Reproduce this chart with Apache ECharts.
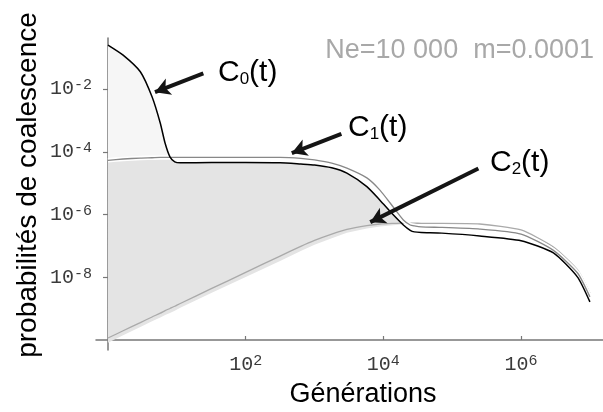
<!DOCTYPE html>
<html>
<head>
<meta charset="utf-8">
<script src="https://cdn.jsdelivr.net/npm/echarts@6.0.0/dist/echarts.min.js"></script>
<style>
  html, body { margin: 0; padding: 0; background: #fff; }
  #chart { width: 603px; height: 412px; }
</style>
</head>
<body>
<div id="chart"></div>
<script>
// log10(générations)
const genLog = [0, 0.22, 0.47, 0.64, 0.76, 0.83, 0.90, 0.97, 1.05, 1.5, 2.0, 2.5, 2.8, 3.0, 3.25, 3.47, 3.76, 3.95, 4.14, 4.29, 4.39, 4.45, 4.55, 4.85, 5.4, 6.0, 6.47, 6.82, 7.0];
// log10 des probabilités
const c0Log = [-0.60, -0.92, -1.45, -2.25, -3.09, -3.73, -4.16, -4.32, -4.35, -4.34, -4.34, -4.35, -4.39, -4.42, -4.51, -4.68, -5.11, -5.54, -6.00, -6.33, -6.50, -6.55, -6.57, -6.59, -6.68, -6.83, -7.22, -7.99, -8.78];
const c1Log = [-4.27, -4.23, -4.20, -4.19, -4.18, -4.18, -4.18, -4.18, -4.18, -4.18, -4.18, -4.18, -4.21, -4.26, -4.36, -4.52, -4.83, -5.22, -5.75, -6.17, -6.33, -6.36, -6.39, -6.41, -6.46, -6.62, -7.14, -7.86, -8.62];
const c2Log = [-9.93, -9.70, -9.44, -9.26, -9.14, -9.06, -8.99, -8.92, -8.83, -8.36, -7.84, -7.32, -7.01, -6.82, -6.62, -6.47, -6.35, -6.30, -6.28, -6.27, -6.27, -6.27, -6.28, -6.28, -6.30, -6.49, -7.03, -7.76, -8.50];
// bord inférieur de la zone grisée
const fillLowLog = [-10.08, -9.84, -9.58, -9.40, -9.28, -9.20, -9.13, -9.06, -8.97, -8.50, -7.99, -7.48, -7.16, -6.96, -6.75, -6.58, -6.44, -6.38, -6.34, -6.31, -6.27, -6.27, -6.28, -6.28, -6.30, -6.49, -7.03, -7.76, -8.50];
const xTicks = [2, 4, 6];
const yTicks = [-2, -4, -6, -8];
// flèches : [queue, pointe] en (log t, log p)
const arrows = [
  [[1.385, -1.50], [0.683, -2.10]],
  [[3.39, -3.43], [2.67, -4.04]],
  [[5.38, -4.53], [3.81, -6.24]]
];

const pairs = (ys) => genLog.map((x, i) => [x, ys[i]]);
// bords des zones grisées
const bandTop = genLog.map((x, i) => Math.max(Math.min(c0Log[i], c1Log[i]), fillLowLog[i]));
const lightTop = genLog.map((x, i) => Math.max(c0Log[i], bandTop[i]));

function fillPolygon(api, upper, lower, color) {
  const pts = [];
  genLog.forEach((x, i) => pts.push(api.coord([x, upper[i]])));
  for (let i = genLog.length - 1; i >= 0; i--) pts.push(api.coord([genLog[i], lower[i]]));
  return { type: 'polygon', shape: { points: pts }, style: { fill: color } };
}

const tickRich = {
  b: { fontFamily: 'Liberation Mono', fontSize: 20, lineHeight: 22, color: '#3a3a3a' },
  s: { fontFamily: 'Liberation Mono', fontSize: 15, lineHeight: 10, verticalAlign: 'top', color: '#3a3a3a' }
};
const labRich = {
  a: { fontFamily: 'Liberation Sans', fontSize: 30, lineHeight: 34, verticalAlign: 'bottom', fill: '#000' },
  b: { fontFamily: 'Liberation Sans', fontSize: 17, lineHeight: 18, verticalAlign: 'bottom', fill: '#000' }
};
const cLabel = (n, x, y) => ({
  type: 'text', x: x, y: y, z: 100,
  style: { text: '{a|C}{b|' + n + '}{a|(t)}', rich: labRich, align: 'left', verticalAlign: 'middle' }
});

const chart = echarts.init(document.getElementById('chart'));
chart.setOption({
  animation: false,
  grid: { left: 96, right: 0, top: 38, bottom: 62 },
  xAxis: {
    type: 'value', min: -0.174, max: 7.19, offset: -10,
    axisLine: { lineStyle: { color: '#777', width: 1.5 } },
    axisTick: { customValues: xTicks, inside: true, length: 4, lineStyle: { color: '#777', width: 1.2 } },
    axisLabel: { customValues: xTicks, margin: 14, formatter: (v) => '{b|10}{s|' + v + '}', rich: tickRich },
    splitLine: { show: false }
  },
  yAxis: {
    type: 'value', min: -10.312, max: -0.376, offset: -9,
    axisLine: { lineStyle: { color: '#777', width: 1.5 } },
    axisTick: { customValues: yTicks, length: 5, lineStyle: { color: '#777', width: 1.2 } },
    axisLabel: { customValues: yTicks, margin: 13, formatter: (v) => '{b|10}{s|' + v + '}', rich: tickRich },
    splitLine: { show: false }
  },
  series: [
    {
      type: 'custom', silent: true, clip: true, data: [[1, -5]],
      renderItem: (params, api) => ({
        type: 'group',
        children: [
          fillPolygon(api, bandTop, fillLowLog, '#e4e4e4'),
          fillPolygon(api, lightTop, bandTop, '#f6f6f6')
        ]
      })
    },
    { type: 'line', data: pairs(c2Log), symbol: 'none', smooth: 0.2, lineStyle: { color: '#aaaaaa', width: 1.3 } },
    { type: 'line', data: pairs(c1Log), symbol: 'none', smooth: 0.2, lineStyle: { color: '#fff', width: 4.5 } },
    { type: 'line', data: pairs(c1Log), symbol: 'none', smooth: 0.2, lineStyle: { color: '#888888', width: 1.3 } },
    {
      type: 'line', data: pairs(c0Log), symbol: 'none', smooth: 0.2, lineStyle: { color: '#000', width: 1.5 },
      markLine: {
        silent: true, animation: false, label: { show: false },
        lineStyle: { color: '#151515', width: 4, type: 'solid' },
        symbolSize: [13, 15],
        data: arrows.map((a) => [{ coord: a[0], symbol: 'none' }, { coord: a[1], symbol: 'arrow' }])
      }
    }
  ],
  graphic: [
    { type: 'text', x: 594, y: 51, z: 100, style: { text: 'Ne=10 000  m=0.0001', font: '27px "Liberation Sans"', fill: '#a8a8a8', align: 'right', verticalAlign: 'middle' } },
    cLabel('0', 218, 71),
    cLabel('1', 348, 126),
    cLabel('2', 490, 161),
    { type: 'text', x: 363, y: 395, z: 100, style: { text: 'Générations', font: '27px "Liberation Sans"', fill: '#000', align: 'center', verticalAlign: 'middle' } },
    { type: 'text', x: 28, y: 185, z: 100, rotation: Math.PI / 2, style: { text: 'probabilités de coalescence', font: '28px "Liberation Sans"', fill: '#000', align: 'center', verticalAlign: 'middle' } }
  ]
});
</script>
</body>
</html>
